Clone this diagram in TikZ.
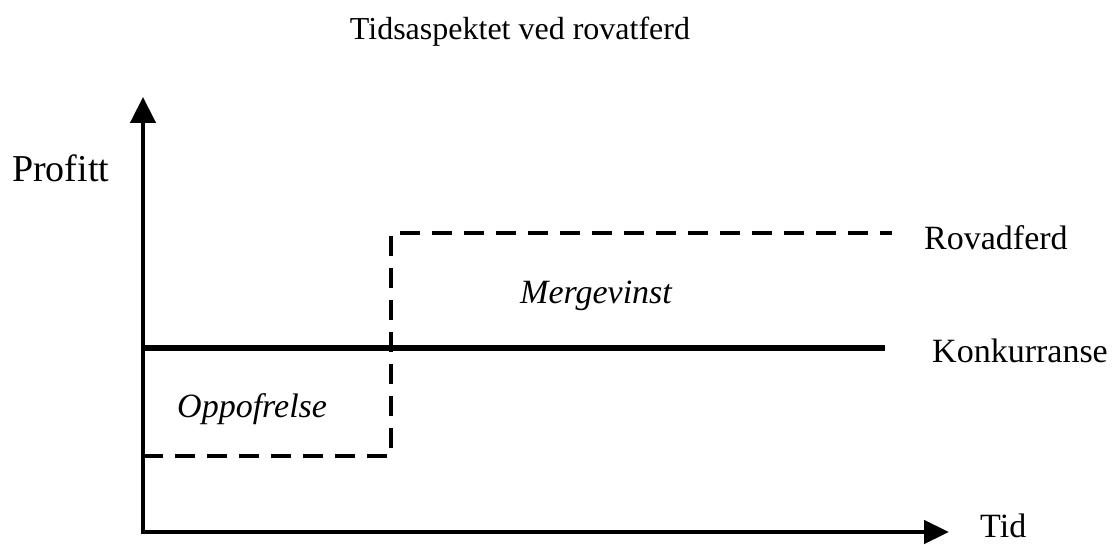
\documentclass[tikz,border=0pt]{standalone}
\usepackage{fontspec}
\setmainfont{Liberation Serif}
\usetikzlibrary{arrows.meta}
\tikzset{
  axis/.style={line width=4.5pt},
  comp/.style={line width=6pt},
  pred/.style={line width=3.8pt, dash pattern=on 20pt off 12pt},
  lbl/.style={inner sep=0pt, anchor=base west, font=\fontsize{34}{40}\selectfont},
  ilbl/.style={lbl, font=\fontsize{34}{40}\selectfont\itshape},
}
\begin{document}
\begin{tikzpicture}[x=1pt,y=-1pt]
\useasboundingbox (0,0) rectangle (1115,545);
% coordinates
\coordinate (O) at (143,532);
\coordinate (ytip) at (143,97);
\coordinate (xtip) at (949,532);
\coordinate (k0) at (143,348);
\coordinate (k1) at (885,348);
\coordinate (r0) at (143,456);
\coordinate (r1) at (391,456);
\coordinate (r2) at (391,233);
\coordinate (r3) at (892,233);
% axes
\draw[axis, -{Triangle[length=26pt,width=25pt]}] (O) -- (ytip);
\draw[axis, -{Triangle[length=25pt,width=23pt]}] ([xshift=-2.25pt]O) -- (xtip);
% lines
\draw[comp] (k0) -- (k1);
\draw[pred] (r0) -- (r1) -- (r2) -- (r3);
% texts
\node[inner sep=0pt, anchor=base, font=\fontsize{32}{38}\selectfont] (title) at (520,40) {Tidsaspektet ved rovatferd};
\node[lbl, font=\fontsize{38}{44}\selectfont] (profitt) at (12,182) {Profitt};
\node[lbl] (rov) at (924,249) {Rovadferd};
\node[lbl] (konk) at (932,362) {Konkurranse};
\node[lbl] (tid) at (980,537) {Tid};
\node[ilbl] (merge) at (520,303) {Mergevinst};
\node[ilbl] (oppo) at (177,417) {Oppofrelse};
\end{tikzpicture}
\end{document}
